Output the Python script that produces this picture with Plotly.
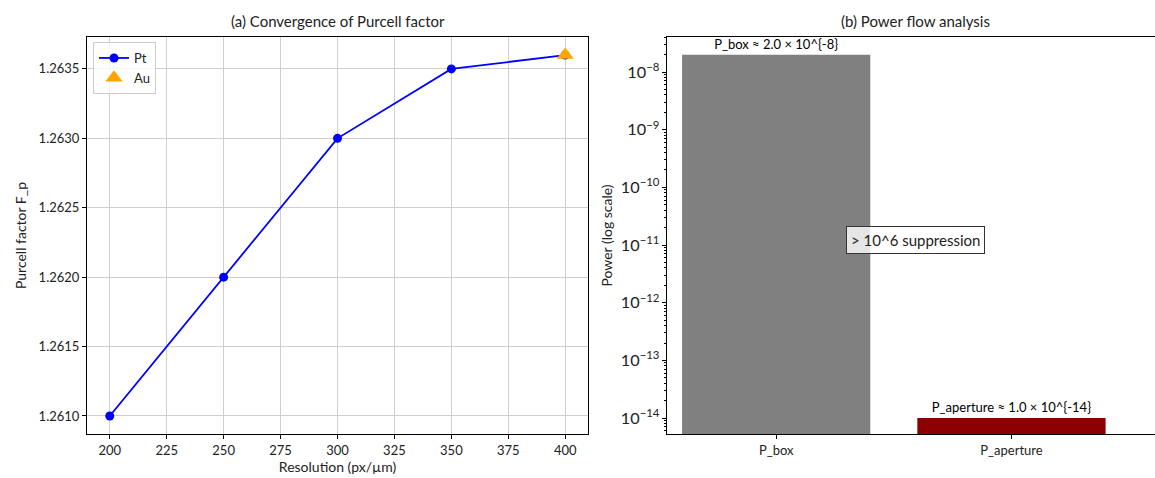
import plotly.graph_objects as go

resolution = [200, 250, 300, 350, 400]
purcell_pt = [1.2610, 1.2620, 1.2630, 1.2635, 1.2636]
au_res = [400]
purcell_au = [1.2636]

power_labels = ["P_box", "P_aperture"]
power_values = [2.0e-8, 1.0e-14]
power_texts = ["P_box ≈ 2.0 × 10^{-8}", "P_aperture ≈ 1.0 × 10^{-14}"]
bar_colors = ["#808080", "#8b0000"]

W, H = 1155, 478
FONT = "Lato"
TOP, BOT = 37, 44
PH = H - TOP - BOT
LOG_RANGE = [-14.277, -7.393]


def py(pix):
    """pixel row from top -> paper y"""
    return (H - BOT - pix) / PH


# minor tick positions for the log axis (2..9 x 10^k)
minor_vals = [m * 10.0 ** k for k in range(-15, -6) for m in range(2, 10)]

fig = go.Figure()
fig.add_trace(go.Scatter(x=resolution, y=purcell_pt, mode="lines+markers", name="Pt",
                         line=dict(color="blue", width=1.8),
                         marker=dict(color="blue", size=9, symbol="circle"),
                         xaxis="x", yaxis="y"))
fig.add_trace(go.Scatter(x=au_res, y=purcell_au, mode="markers", name="Au",
                         marker=dict(color="orange", size=15, symbol="triangle-up"),
                         xaxis="x", yaxis="y"))
fig.add_trace(go.Bar(x=power_labels, y=power_values, marker=dict(color=bar_colors, line=dict(width=0)),
                     width=0.8, showlegend=False, xaxis="x2", yaxis="y2",
                     text=power_texts, textposition="outside", cliponaxis=False,
                     textfont=dict(size=13, color="black", family=FONT)))
# invisible trace to activate the minor-tick overlay axis
fig.add_trace(go.Scatter(x=[power_labels[0]], y=[power_values[0]], mode="markers",
                         marker=dict(opacity=0), showlegend=False, hoverinfo="skip",
                         xaxis="x2", yaxis="y3"))

axis_common = dict(showline=True, linecolor="black", linewidth=1, ticks="outside", ticklen=4,
                   tickcolor="black", tickfont=dict(size=13, color="#222", family=FONT),
                   zeroline=False, automargin=False)

fig.update_layout(
    width=W, height=H,
    margin=dict(l=0, r=0, t=TOP, b=BOT),
    paper_bgcolor="white", plot_bgcolor="white",
    font=dict(family=FONT, color="#222"),
    showlegend=True,
    legend=dict(x=93 / W, y=py(42), xanchor="left", yanchor="top",
                bordercolor="#cccccc", borderwidth=1, bgcolor="rgba(255,255,255,0.8)",
                font=dict(size=13, family=FONT), itemwidth=30, tracegroupgap=0),
    xaxis=dict(domain=[87 / W, 588 / W], range=[190, 410], dtick=25, tick0=200,
               mirror=True, showgrid=True, gridcolor="#cfcfcf", gridwidth=1,
               title=dict(text="Resolution (px/µm)", font=dict(size=14, family=FONT), standoff=4),
               anchor="y", **axis_common),
    yaxis=dict(domain=[0, 1], range=[1.26087, 1.26373], dtick=0.0005, tick0=1.2610,
               tickformat=".4f", mirror=True, showgrid=True, gridcolor="#cfcfcf", gridwidth=1,
               title=dict(text="Purcell factor F_p", font=dict(size=14, family=FONT), standoff=8),
               anchor="x", **axis_common),
    xaxis2=dict(domain=[667 / W, 1.0], range=[-0.464, 1.61], mirror=True, showgrid=False,
                anchor="y2", type="category", **axis_common),
    yaxis2=dict(domain=[0, 1], type="log", range=LOG_RANGE, dtick=1,
                exponentformat="power", showgrid=False, anchor="x2",
                title=dict(text="Power (log scale)", font=dict(size=14, family=FONT), standoff=4),
                **axis_common),
    yaxis3=dict(domain=[0, 1], type="log", range=LOG_RANGE, overlaying="y2", anchor="x2",
                side="left", tickmode="array", tickvals=minor_vals, showticklabels=False,
                ticks="outside", ticklen=2, tickcolor="black", showgrid=False, showline=False,
                zeroline=False, automargin=False),
    annotations=[
        dict(text="(a) Convergence of Purcell factor", x=(87 + 588) / 2 / W, y=py(21),
             xref="paper", yref="paper", showarrow=False, font=dict(size=15, family=FONT, color="#222"),
             xanchor="center", yanchor="middle"),
        dict(text="(b) Power flow analysis", x=915 / W, y=py(21),
             xref="paper", yref="paper", showarrow=False, font=dict(size=15, family=FONT, color="#222"),
             xanchor="center", yanchor="middle"),
        dict(text="> 10^6 suppression", x=915 / W, y=py(240), xref="paper", yref="paper",
             showarrow=False, font=dict(size=15, family=FONT, color="#222"),
             bgcolor="rgba(255,255,255,0.8)", bordercolor="#333", borderwidth=1, borderpad=4,
             xanchor="center", yanchor="middle"),
    ],
)

fig.write_html("out.html", config={"displayModeBar": False},
               post_script="document.body.style.margin='0';")
